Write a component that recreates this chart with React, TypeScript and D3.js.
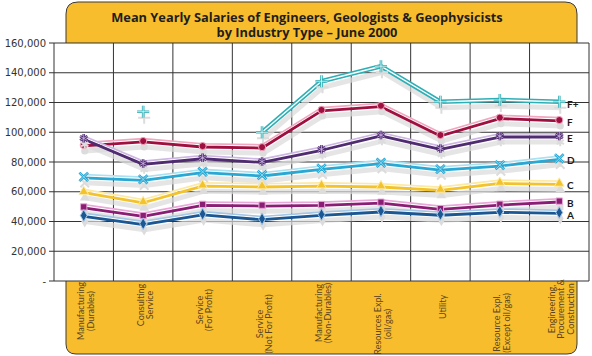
import React from "react";
import * as d3 from "d3";

const categories: string[][] = [
  ["Manufacturing", "(Durables)"],
  ["Consulting", "Service"],
  ["Service", "(For Profit)"],
  ["Service", "(Not For Profit)"],
  ["Manufacturing", "(Non-Durables)"],
  ["Resources Expl.", "(oil/gas)"],
  ["Utility"],
  ["Resource Expl.", "(Except oil/gas)"],
  ["Engineering,", "Procurement &", "Construction"],
];

const seriesNames = ["F+", "F", "E", "D", "C", "B", "A"];
const valuesFPlus: (number | null)[] = [null, 113800, null, 100000, 134300, 144400, 120500, 121700, 120500];
const valuesF: (number | null)[] = [91400, 94100, 90700, 90000, 115000, 117800, 98100, 109800, 108200];
const valuesE: (number | null)[] = [95900, 79000, 82800, 80300, 88500, 98100, 89100, 97400, 97400];
const valuesD: (number | null)[] = [70000, 68300, 73400, 71200, 75700, 79500, 75200, 77900, 82400];
const valuesC: (number | null)[] = [60000, 53200, 64400, 63800, 64400, 63800, 61500, 66200, 65600];
const valuesB: (number | null)[] = [49800, 44000, 51500, 51000, 51400, 53000, 48700, 51600, 53700];
const valuesA: (number | null)[] = [44000, 38500, 45000, 41800, 44700, 47000, 44800, 46800, 46000];

const yTicks = [0, 20000, 40000, 60000, 80000, 100000, 120000, 140000, 160000];
const titleLines = [
  "Mean Yearly Salaries of Engineers, Geologists & Geophysicists",
  "by Industry Type \u2013 June 2000",
];

// layout (not data)
const labelCenterY = [311, 305, 310, 324, 313, 324, 307, 323, 309];

const W = 592;
const H = 356;
const M = { left: 54, right: 589, top: 43, bottom: 281 };
const GOLD = "#f8bd2c";

const styles: Record<string, { main: string; hi: string; sym: any; stroke: boolean }> = {
  "F+": { main: "#2eaeb5", hi: "#ffffff", sym: (d3 as any).symbolPlus ?? d3.symbolCross, stroke: true },
  F: { main: "#9e1040", hi: "#f2a6bf", sym: d3.symbolCircle, stroke: false },
  E: { main: "#4f2b70", hi: "#cdb6e4", sym: (d3 as any).symbolAsterisk ?? d3.symbolStar, stroke: true },
  D: { main: "#28a8d3", hi: "#a9e0f2", sym: (d3 as any).symbolTimes ?? d3.symbolCross, stroke: true },
  C: { main: "#f3c32e", hi: "#fde9a2", sym: d3.symbolTriangle, stroke: false },
  B: { main: "#8a1e74", hi: "#eaa8da", sym: d3.symbolSquare, stroke: false },
  A: { main: "#1b5893", hi: "#a3c6e8", sym: d3.symbolDiamond, stroke: false },
};

export default function App() {
  const x = d3
    .scaleBand<number>()
    .domain(d3.range(categories.length))
    .range([M.left, M.right])
    .paddingInner(0)
    .paddingOuter(0);
  const y = d3.scaleLinear().domain([0, 160000]).range([M.bottom, M.top]);
  const cx = (i: number) => (x(i) as number) + x.bandwidth() / 2;

  const seriesData: Record<string, (number | null)[]> = {
    "F+": valuesFPlus,
    F: valuesF,
    E: valuesE,
    D: valuesD,
    C: valuesC,
    B: valuesB,
    A: valuesA,
  };

  const line = d3
    .line<number | null>()
    .defined((d) => d != null)
    .x((_, i) => cx(i))
    .y((d) => y(d as number));

  const pathFor = (vals: (number | null)[]) => line(vals) || "";

  const fmt = d3.format(",");
  const boxL = 66;
  const boxR = 577;
  const r = 12;

  return (
    <svg width={W} height={H} style={{ position: "absolute", left: 0, top: 0 }}>
      <rect x={0} y={0} width={W} height={H} fill="#fff" />
      {/* title box */}
      <path
        d={`M${boxL},${M.top} V${2 + r} Q${boxL},2 ${boxL + r},2 H${boxR - r} Q${boxR},2 ${boxR},${2 + r} V${M.top}`}
        fill={GOLD}
        stroke="#3a3a3a"
        strokeWidth={1}
      />
      {/* bottom box */}
      <path
        d={`M${boxL},${M.bottom} V${354 - 10} Q${boxL},354 ${boxL + 10},354 H${boxR - 10} Q${boxR},354 ${boxR},${354 - 10} V${M.bottom}`}
        fill={GOLD}
        stroke="#3a3a3a"
        strokeWidth={1}
      />
      {titleLines.map((t, i) => (
        <text
          key={i}
          x={307}
          y={21.5 + i * 15}
          textAnchor="middle"
          fontFamily="'Open Sans', Lato, sans-serif"
          fontWeight={700}
          fontSize={12.8}
          fill="#1e1e1e"
        >
          {t}
        </text>
      ))}
      {/* plot area */}
      <rect x={M.left} y={M.top} width={M.right - M.left} height={M.bottom - M.top} fill="#fff" />
      {yTicks.map((t) => (
        <line key={t} x1={M.left - 5} x2={M.right} y1={y(t)} y2={y(t)} stroke="#333" strokeWidth={1} />
      ))}
      {d3.range(categories.length + 1).map((i) => {
        const xv = i < categories.length ? (x(i) as number) : M.right;
        return <line key={i} x1={xv} x2={xv} y1={M.top} y2={M.bottom} stroke="#333" strokeWidth={1} />;
      })}
      {yTicks.map((t) => (
        <text
          key={t}
          x={46}
          y={y(t)}
          dy="0.35em"
          textAnchor="end"
          fontFamily="'DejaVu Sans', sans-serif"
          fontSize={10}
          fill="#333"
        >
          {t === 0 ? "-" : fmt(t)}
        </text>
      ))}
      {/* shadows */}
      {seriesNames.map((s) => (
        <path
          key={"sh" + s}
          d={pathFor(seriesData[s])}
          fill="none"
          stroke="#dadada"
          strokeWidth={5}
          strokeLinejoin="round"
          opacity={0.7}
          transform="translate(1.5,6)"
        />
      ))}
      {seriesNames.map((s) => {
        const st = styles[s];
        const d = pathFor(seriesData[s]);
        if (s === "F+") {
          return (
            <g key={s}>
              <path d={d} fill="none" stroke={st.main} strokeWidth={4.5} strokeLinejoin="round" />
              <path d={d} fill="none" stroke="#fff" strokeWidth={1.4} strokeLinejoin="round" />
            </g>
          );
        }
        return (
          <g key={s}>
            <path d={d} fill="none" stroke={st.hi} strokeWidth={2} strokeLinejoin="round" transform="translate(0,-2.2)" />
            <path d={d} fill="none" stroke="#fff" strokeWidth={1} strokeLinejoin="round" transform="translate(0,-1)" />
            <path d={d} fill="none" stroke={st.main} strokeWidth={2.8} strokeLinejoin="round" transform="translate(0,0.9)" />
          </g>
        );
      })}
      {/* markers */}
      {seriesNames.map((s) => {
        const st = styles[s];
        const sym = d3.symbol().type(st.sym).size(st.stroke ? 50 : 40);
        return (
          <g key={"m" + s}>
            {seriesData[s].map((v, i) =>
              v == null ? null : (
                <g key={i} transform={`translate(${cx(i)},${y(v)})`}>
                  <path d={sym() || ""} transform="translate(1,6)" fill={st.stroke ? "none" : "#dcdcdc"} stroke="#dcdcdc" strokeWidth={st.stroke ? 2 : 0} />
                  {st.stroke ? (
                    <>
                      <path d={sym() || ""} fill="none" stroke={st.main} strokeWidth={2.6} />
                      <path d={sym() || ""} fill="none" stroke={st.hi === "#ffffff" ? "#e8fbfc" : st.hi} strokeWidth={0.8} />
                    </>
                  ) : (
                    <path d={sym() || ""} fill={st.main} stroke={st.hi} strokeWidth={1} />
                  )}
                </g>
              )
            )}
          </g>
        );
      })}
      {/* series end labels */}
      {seriesNames.map((s) => {
        const vals = seriesData[s];
        const last = vals[vals.length - 1] as number;
        return (
          <text
            key={"l" + s}
            x={567}
            y={y(last) + 2.5}
            dy="0.35em"
            fontFamily="Lato, sans-serif"
            fontWeight={700}
            fontSize={10}
            fill="#1a1a1a"
          >
            {s}
          </text>
        );
      })}
      {/* category labels */}
      {categories.map((lines, i) => {
        const n = lines.length;
        const lh = 9.3;
        const cxx = cx(i) + 2;
        return (
          <g key={i} transform={`translate(${cxx},${labelCenterY[i]}) rotate(-90)`}>
            {lines.map((ln, j) => (
              <text
                key={j}
                x={0}
                y={(j - (n - 1) / 2) * lh}
                dy="0.35em"
                textAnchor="middle"
                fontFamily="Lato, sans-serif"
                fontSize={9}
                fill="#5a4520"
              >
                {ln}
              </text>
            ))}
          </g>
        );
      })}
    </svg>
  );
}
